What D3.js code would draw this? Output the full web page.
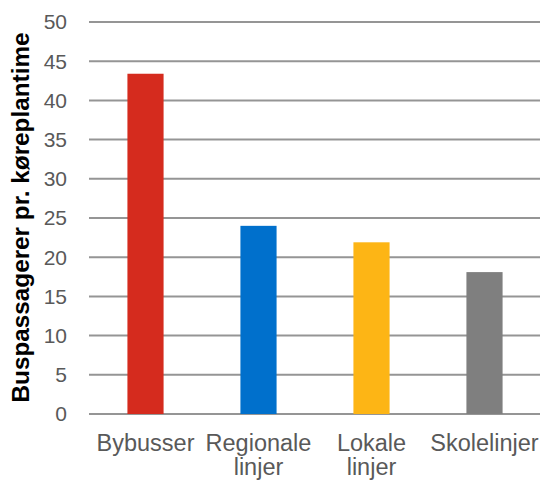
<!DOCTYPE html>
<html><head><meta charset="utf-8">
<script src="https://cdn.jsdelivr.net/npm/d3@7"></script>
<style>body{margin:0;background:#fff}</style>
</head><body>
<svg id="c" width="540" height="482"></svg>
<script>
const categories = [["Bybusser"], ["Regionale", "linjer"], ["Lokale", "linjer"], ["Skolelinjer"]];
const values = [43.4, 24.0, 21.9, 18.1];
const colors = ["#D52B1E", "#0070CC", "#FDB515", "#7F7F7F"];
const yTicks = [0, 5, 10, 15, 20, 25, 30, 35, 40, 45, 50];
const yTitle = "Buspassagerer pr. køreplantime";

const svg = d3.select("#c");
const font = "Liberation Sans, Arial, sans-serif";
const x = d3.scaleBand().domain(d3.range(categories.length)).range([89, 541]).paddingInner(0.68).paddingOuter(0.34);
const y = d3.scaleLinear().domain([0, 50]).range([414, 22]);

svg.append("g").selectAll("line").data(yTicks).join("line")
  .attr("x1", 89).attr("x2", 540)
  .attr("y1", d => y(d)).attr("y2", d => y(d))
  .attr("stroke", "#959595").attr("stroke-width", 2);

svg.append("g").selectAll("text").data(yTicks).join("text")
  .attr("x", 67).attr("y", d => y(d)).attr("dy", "0.35em")
  .attr("text-anchor", "end").attr("font-family", font).attr("font-size", 21)
  .attr("fill", "#595959").text(d => d);

svg.append("g").selectAll("rect").data(values).join("rect")
  .attr("x", (d, i) => x(i)).attr("width", x.bandwidth())
  .attr("y", d => y(d)).attr("height", d => y(0) - y(d))
  .attr("fill", (d, i) => colors[i]);

const lab = svg.append("g").selectAll("text").data(categories).join("text")
  .attr("x", (d, i) => x(i) + x.bandwidth() / 2).attr("y", 451)
  .attr("text-anchor", "middle").attr("font-family", font).attr("font-size", 23.5)
  .attr("fill", "#595959");
lab.selectAll("tspan").data(d => d).join("tspan")
  .attr("x", function() { return d3.select(this.parentNode).attr("x"); })
  .attr("dy", (d, j) => j === 0 ? 0 : 24).text(d => d);

svg.append("text").attr("transform", "translate(29,217.5) rotate(-90)")
  .attr("text-anchor", "middle").attr("font-family", font).attr("font-size", 24.3)
  .attr("font-weight", "bold").attr("fill", "#000").text(yTitle);
</script>
</body></html>
